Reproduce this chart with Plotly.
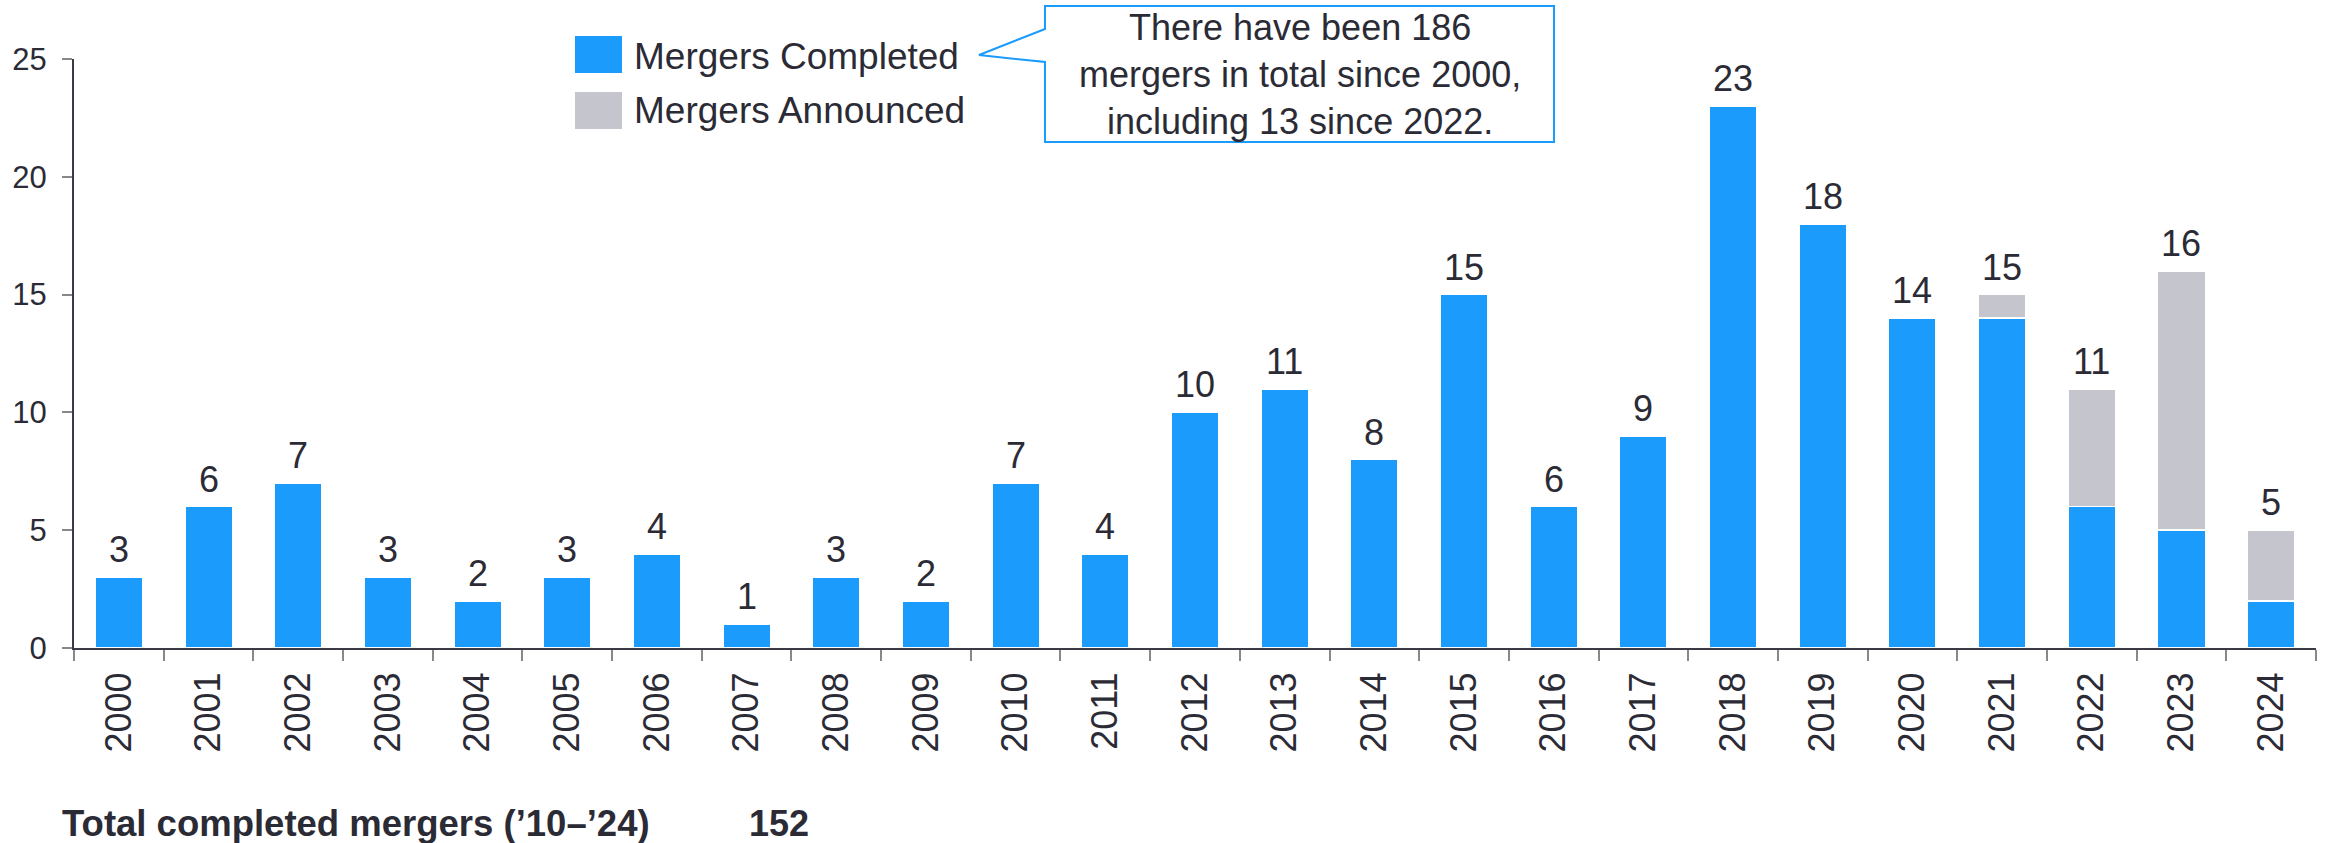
import plotly.graph_objects as go

years = [str(y) for y in range(2000, 2025)]
completed = [3, 6, 7, 3, 2, 3, 4, 1, 3, 2, 7, 4, 10, 11, 8, 15, 6, 9, 23, 18, 14, 14, 6, 5, 2]
announced = [0, 0, 0, 0, 0, 0, 0, 0, 0, 0, 0, 0, 0, 0, 0, 0, 0, 0, 0, 0, 0, 1, 5, 11, 3]
totals = [c + a for c, a in zip(completed, announced)]
y_ticks = [0, 5, 10, 15, 20, 25]

BLUE = "#1B9BFB"
GRAY = "#C4C5CD"
TXT = "#2B2B36"
FONT = "Liberation Sans, Arial, sans-serif"

W, H = 2325, 843
L, R, T, B = 74, 2316, 59, 648  # plot area in pixels


def px(x):
    return (x - L) / (R - L)


def py(y):
    return (B - y) / (B - T)


fig = go.Figure()
fig.add_trace(go.Bar(x=years, y=completed, name="Mergers Completed",
                     marker=dict(color=BLUE, line=dict(color="white", width=1.5)),
                     showlegend=False, hoverinfo="x+y"))
fig.add_trace(go.Bar(x=years, y=announced, name="Mergers Announced",
                     marker=dict(color=GRAY, line=dict(color="white", width=1.5)),
                     showlegend=False, hoverinfo="x+y"))

shapes = []
annotations = []

# total labels above bars (data coordinates; category serial index)
for i, tot in enumerate(totals):
    annotations.append(dict(xref="x", yref="y", x=i, y=tot, yanchor="bottom",
                            yshift=5, showarrow=False, text=str(tot),
                            font=dict(size=36, color=TXT, family=FONT)))

# legend swatches + labels
shapes.append(dict(type="rect", xref="paper", yref="paper",
                   x0=px(575), x1=px(622), y0=py(73), y1=py(36),
                   fillcolor=BLUE, line=dict(width=0)))
shapes.append(dict(type="rect", xref="paper", yref="paper",
                   x0=px(575), x1=px(622), y0=py(129), y1=py(92),
                   fillcolor=GRAY, line=dict(width=0)))
annotations.append(dict(xref="paper", yref="paper", x=px(632), y=py(56),
                        xanchor="left", yanchor="middle", showarrow=False,
                        text="Mergers Completed",
                        font=dict(size=37, color=TXT, family=FONT)))
annotations.append(dict(xref="paper", yref="paper", x=px(632), y=py(111),
                        xanchor="left", yanchor="middle", showarrow=False,
                        text="Mergers Announced",
                        font=dict(size=37, color=TXT, family=FONT)))

# callout box
bx0, bx1, by0, by1 = 1045, 1554, 6, 142
tipx, tipy = 979, 55
path = (f"M {px(bx0)},{py(by0)} L {px(bx1)},{py(by0)} L {px(bx1)},{py(by1)} "
        f"L {px(bx0)},{py(by1)} L {px(bx0)},{py(62)} L {px(tipx)},{py(tipy)} "
        f"L {px(bx0)},{py(29)} Z")
shapes.append(dict(type="path", xref="paper", yref="paper", path=path,
                   fillcolor="white", line=dict(color=BLUE, width=2)))
annotations.append(dict(xref="paper", yref="paper", x=px((bx0 + bx1) / 2),
                        y=py((by0 + by1) / 2), xanchor="center", yanchor="middle",
                        showarrow=False, align="center",
                        text="There have been 186<br>mergers in total since 2000,<br>including 13 since 2022.",
                        font=dict(size=36, color=TXT, family=FONT)))

# bottom summary line
annotations.append(dict(xref="paper", yref="paper", x=px(60), y=py(823),
                        xanchor="left", yanchor="middle", showarrow=False,
                        text="<b>Total completed mergers (\u201910\u2013\u201924)</b>",
                        font=dict(size=36.5, color=TXT, family=FONT)))
annotations.append(dict(xref="paper", yref="paper", x=px(747), y=py(823),
                        xanchor="left", yanchor="middle", showarrow=False,
                        text=f"<b>{sum(completed[10:])}</b>",
                        font=dict(size=36, color=TXT, family=FONT)))

fig.update_layout(
    width=W, height=H,
    margin=dict(l=L, r=W - R, t=T, b=H - B, pad=0),
    paper_bgcolor="white", plot_bgcolor="white",
    barmode="stack", bargap=0.47,
    shapes=shapes, annotations=annotations,
    font=dict(family=FONT, color=TXT),
    xaxis=dict(type="category", range=[-0.5, len(years) - 0.5], automargin=False,
               showline=True, linecolor="#3a3a44", linewidth=2,
               ticks="outside", tickson="boundaries", ticklen=11, tickcolor="#888888",
               tickwidth=2, tickangle=-90, showgrid=False,
               tickfont=dict(size=36, color=TXT, family=FONT), ticklabelstandoff=8),
    yaxis=dict(range=[0, 25], tickvals=y_ticks, showline=True, linecolor="#3a3a44",
               linewidth=2, ticks="outside", ticklen=10, tickcolor="#888888",
               tickwidth=2, showgrid=False, zeroline=False, automargin=False,
               tickfont=dict(size=31, color=TXT, family=FONT), ticklabelstandoff=9),
)

fig.write_html("out.html", config={"displayModeBar": False},
               post_script="document.body.style.margin='0';document.body.style.padding='0';")
